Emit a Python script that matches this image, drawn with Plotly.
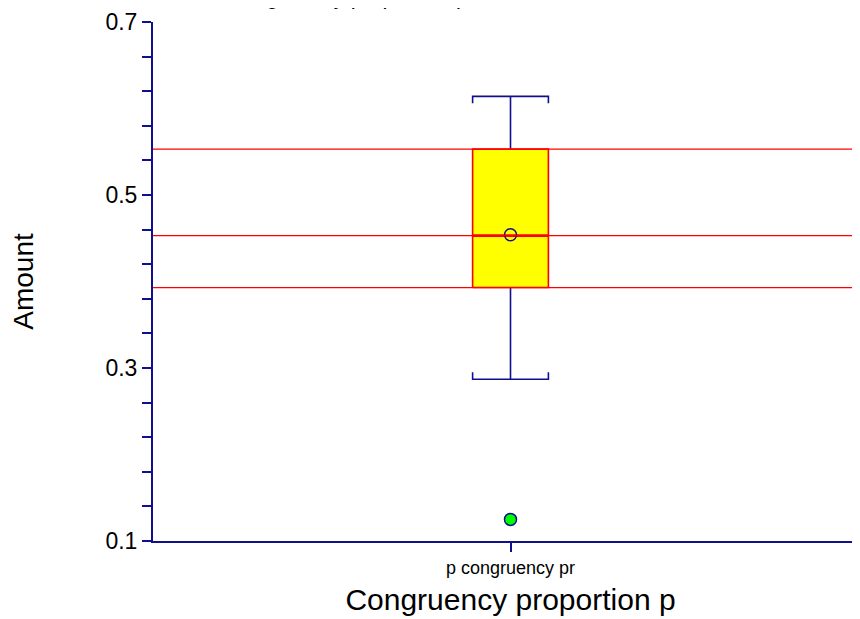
import plotly.graph_objects as go

# ---- data ----
categories = ["p congruency pr"]
q1_vals = [0.393]
median_vals = [0.453]
q3_vals = [0.553]
whisker_low = [0.287]
whisker_high = [0.614]
mean_vals = [0.454]
outlier_vals = [[0.125]]
y_ticks = [0.1, 0.3, 0.5, 0.7]

NAVY = "#10108c"
RED = "#ff0000"
YELLOW = "#ffff00"
FONT = "Liberation Sans, Arial, sans-serif"

half_w = 0.053       # half width of box (x units)
cap_tick = 0.008     # little bracket ends on the caps (y units)

fig = go.Figure()

for i, cat in enumerate(categories):
    c = i
    q1, med, q3 = q1_vals[i], median_vals[i], q3_vals[i]
    lo, hi = whisker_low[i], whisker_high[i]

    # whiskers with bracket caps
    wx = [c, c, None, c - half_w, c - half_w, c + half_w, c + half_w, None,
          c, c, None, c - half_w, c - half_w, c + half_w, c + half_w]
    wy = [q3, hi, None, hi - cap_tick, hi, hi, hi - cap_tick, None,
          q1, lo, None, lo + cap_tick, lo, lo, lo + cap_tick]
    fig.add_trace(go.Scatter(x=wx, y=wy, mode="lines",
                             line=dict(color=NAVY, width=1.6),
                             hoverinfo="skip", showlegend=False))

    # box
    fig.add_trace(go.Scatter(
        x=[c - half_w, c + half_w, c + half_w, c - half_w, c - half_w],
        y=[q1, q1, q3, q3, q1], mode="lines", fill="toself",
        fillcolor=YELLOW, line=dict(color=RED, width=1.6),
        hoverinfo="skip", showlegend=False))

    # median inside box
    fig.add_trace(go.Scatter(x=[c - half_w, c + half_w], y=[med, med],
                             mode="lines", line=dict(color=RED, width=2.6),
                             hoverinfo="skip", showlegend=False))

    # horizontal reference lines at Q1, median, Q3
    for v in (q1, med, q3):
        fig.add_hline(y=v, line=dict(color=RED, width=1.2), layer="above")

    # mean
    fig.add_trace(go.Scatter(x=[c], y=[mean_vals[i]], mode="markers",
                             marker=dict(symbol="circle-open", size=12,
                                         color=NAVY, line=dict(width=1.5, color=NAVY)),
                             showlegend=False))
    # outliers
    fig.add_trace(go.Scatter(x=[c] * len(outlier_vals[i]), y=outlier_vals[i],
                             mode="markers",
                             marker=dict(symbol="circle", size=12, color="#00ff00",
                                         line=dict(width=1.5, color=NAVY)),
                             showlegend=False))

fig.update_layout(
    width=860, height=619,
    margin=dict(l=145, r=0, t=14, b=86),
    paper_bgcolor="white", plot_bgcolor="white",
    font=dict(family=FONT, color="black"),
    showlegend=False,
    xaxis=dict(
        range=[-0.5, 0.5], showgrid=False, zeroline=False,
        tickvals=list(range(len(categories))), ticktext=categories,
        ticks="outside", ticklen=9, tickwidth=1.5, tickcolor=NAVY,
        showline=True, linecolor=NAVY, linewidth=2,
        tickfont=dict(size=18, family=FONT),
        title=dict(text="Congruency proportion p", font=dict(size=30, family=FONT),
                   standoff=12),
    ),
    yaxis=dict(
        range=[0.1, 0.7], showgrid=False, zeroline=False,
        tickvals=y_ticks, ticktext=[f"{v:.1f}" for v in y_ticks],
        ticks="outside", ticklen=9, tickwidth=1.5, tickcolor=NAVY,
        minor=dict(dtick=0.04, tick0=0.1, ticks="outside", ticklen=9,
                   tickwidth=1.5, tickcolor=NAVY),
        showline=True, linecolor=NAVY, linewidth=2,
        tickfont=dict(size=23, family=FONT),
        title=dict(text="Amount", font=dict(size=28, family=FONT), standoff=64),
    ),
)

# title, mostly cut off at the top of the page as in the reference
fig.add_annotation(text="Congruency proportion p", xref="paper", yref="paper",
                   x=(224 - 153) / 715, y=1 + (22 - 11) / 519,
                   xanchor="left", yanchor="bottom", showarrow=False,
                   font=dict(size=22, family=FONT, color="black"))

fig.write_html("out.html")
